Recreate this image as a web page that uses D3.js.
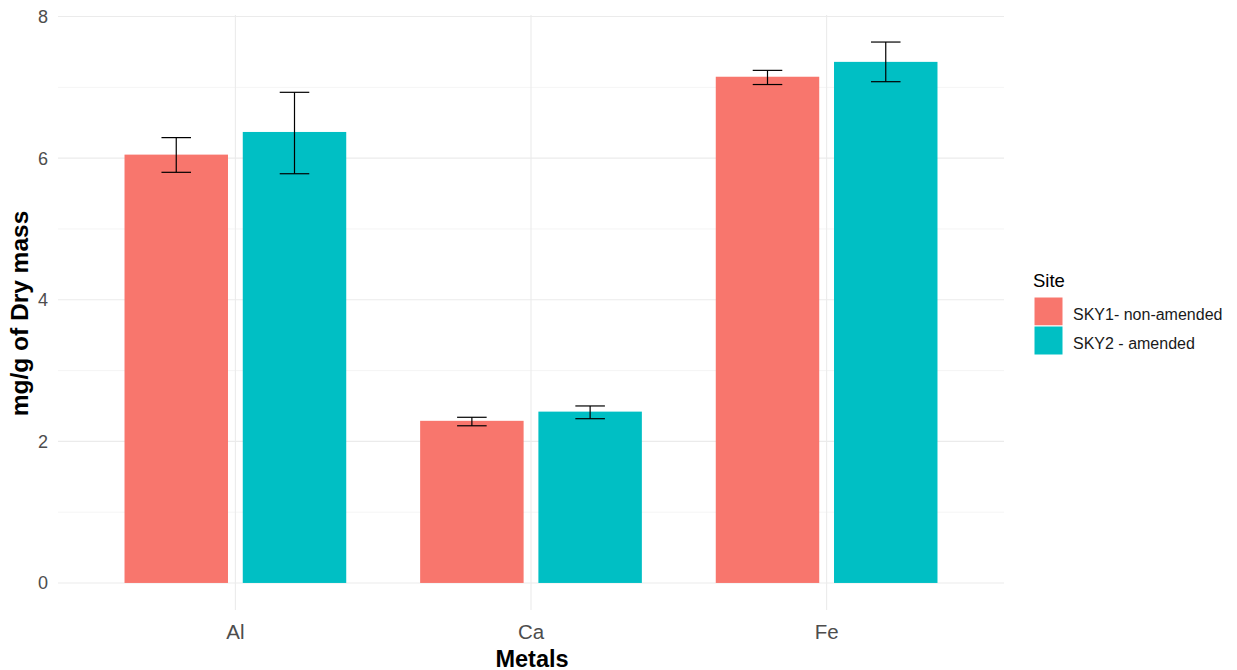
<!DOCTYPE html>
<html>
<head>
<meta charset="utf-8">
<script src="https://cdn.jsdelivr.net/npm/d3@7"></script>
<style>
  body { margin: 0; background: #fff; }
  svg { display: block; font-family: "Liberation Sans", Arial, sans-serif; }
</style>
</head>
<body>
<svg id="chart" width="1237" height="670"></svg>
<script>
const metals = ['Al', 'Ca', 'Fe'];
const sites = ['SKY1- non-amended', 'SKY2 - amended'];
const siteColors = ['#F8766D', '#00BFC4'];
// means per site, one value per metal
const sky1Mean = [6.05, 2.29, 7.15];
const sky2Mean = [6.37, 2.42, 7.36];
// error bar limits
const sky1Low = [5.80, 2.22, 7.04];
const sky1High = [6.29, 2.34, 7.24];
const sky2Low = [5.78, 2.32, 7.08];
const sky2High = [6.93, 2.50, 7.64];
const yTicks = [0, 2, 4, 6, 8];
const yMinor = [1, 3, 5, 7];

const rows = [];
metals.forEach((m, i) => {
  rows.push({ metal: m, site: sites[0], mean: sky1Mean[i], lo: sky1Low[i], hi: sky1High[i] });
  rows.push({ metal: m, site: sites[1], mean: sky2Mean[i], lo: sky2Low[i], hi: sky2High[i] });
});

const svg = d3.select('#chart');
const panel = { left: 58, right: 1004, top: 15, bottom: 610 };

// ggplot-like continuous expansion
const yMax = d3.max(rows, d => d.hi);
const pad = yMax * 0.05;
const y = d3.scaleLinear().domain([-pad, yMax + pad]).range([panel.bottom, panel.top]);

// discrete x with 0.6 expansion
const x = d3.scaleLinear().domain([0.4, metals.length + 0.6]).range([panel.left, panel.right]);
const xPos = m => x(metals.indexOf(m) + 1);
const dodge = d3.scaleBand().domain(sites).range([-0.4, 0.4]);
const color = d3.scaleOrdinal().domain(sites).range(siteColors);
const barW = 0.35;

const grid = svg.append('g');
grid.selectAll('line.minor').data(yMinor).join('line')
  .attr('x1', panel.left).attr('x2', panel.right)
  .attr('y1', d => y(d)).attr('y2', d => y(d))
  .attr('stroke', '#EBEBEB').attr('stroke-width', 0.55);
grid.selectAll('line.major').data(yTicks).join('line')
  .attr('x1', panel.left).attr('x2', panel.right)
  .attr('y1', d => y(d)).attr('y2', d => y(d))
  .attr('stroke', '#EBEBEB').attr('stroke-width', 1.1);
grid.selectAll('line.vx').data(metals).join('line')
  .attr('x1', d => xPos(d)).attr('x2', d => xPos(d))
  .attr('y1', panel.top).attr('y2', panel.bottom)
  .attr('stroke', '#EBEBEB').attr('stroke-width', 1.1);

const barCenter = d => x(metals.indexOf(d.metal) + 1 + dodge(d.site) + dodge.bandwidth() / 2);
const unit = x(1) - x(0);

svg.append('g').selectAll('rect').data(rows).join('rect')
  .attr('x', d => barCenter(d) - barW * unit / 2)
  .attr('width', barW * unit)
  .attr('y', d => y(d.mean))
  .attr('height', d => y(0) - y(d.mean))
  .attr('fill', d => color(d.site));

const capW = 0.1 * unit;
const eb = svg.append('g').attr('stroke', '#000').attr('stroke-width', 1.2);
rows.forEach(d => {
  const cx = barCenter(d);
  eb.append('line').attr('x1', cx).attr('x2', cx).attr('y1', y(d.lo)).attr('y2', y(d.hi));
  eb.append('line').attr('x1', cx - capW / 2).attr('x2', cx + capW / 2).attr('y1', y(d.lo)).attr('y2', y(d.lo));
  eb.append('line').attr('x1', cx - capW / 2).attr('x2', cx + capW / 2).attr('y1', y(d.hi)).attr('y2', y(d.hi));
});

// axis labels
svg.append('g').selectAll('text').data(yTicks).join('text')
  .attr('x', 48).attr('y', d => y(d)).attr('dy', '0.36em')
  .attr('text-anchor', 'end').attr('font-size', 18).attr('fill', '#4D4D4D')
  .text(d => d);
svg.append('g').selectAll('text').data(metals).join('text')
  .attr('x', d => xPos(d)).attr('y', 638.5)
  .attr('text-anchor', 'middle').attr('font-size', 20.5).attr('fill', '#4D4D4D')
  .text(d => d);

svg.append('text')
  .attr('transform', `translate(27.5,${(panel.top + panel.bottom) / 2 + 1}) rotate(-90)`)
  .attr('text-anchor', 'middle').attr('font-size', 24.5).attr('font-weight', 'bold')
  .text('mg/g of Dry mass');
svg.append('text')
  .attr('x', (panel.left + panel.right) / 2 + 1).attr('y', 667)
  .attr('text-anchor', 'middle').attr('font-size', 23.5).attr('font-weight', 'bold')
  .text('Metals');

// legend
const lg = svg.append('g').attr('transform', 'translate(1033,0)');
lg.append('text').attr('x', 0).attr('y', 287).attr('font-size', 18.5).attr('fill', '#000').text('Site');
sites.forEach((s, i) => {
  lg.append('rect').attr('x', 1).attr('y', 297 + i * 29).attr('width', 29).attr('height', 29)
    .attr('fill', color(s)).attr('stroke', '#fff').attr('stroke-width', 1);
  lg.append('text').attr('x', 40).attr('y', 314 + i * 29).attr('dy', '0.35em')
    .attr('font-size', 16).attr('fill', '#1a1a1a').text(s);
});
</script>
</body>
</html>
